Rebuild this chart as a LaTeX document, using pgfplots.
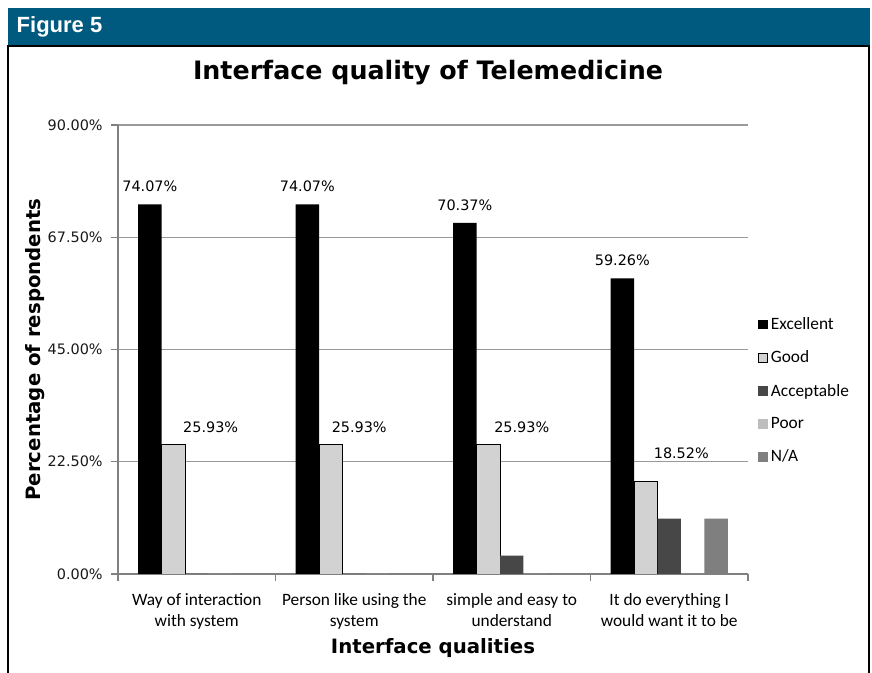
\documentclass[border=0pt]{standalone}
\usepackage{pgfplots}
\pgfplotsset{compat=1.18}
\usepackage{fontspec}
\setmainfont{DejaVu Sans}
\newfontfamily\carlito{Carlito}
\newfontfamily\libsans{Liberation Sans}
\definecolor{hdr}{HTML}{005A80}
\definecolor{goodc}{HTML}{D2D2D2}
\definecolor{accc}{HTML}{474747}
\definecolor{poorc}{HTML}{BDBDBD}
\definecolor{nac}{HTML}{7F7F7F}
\definecolor{gridc}{HTML}{999999}
\definecolor{axc}{HTML}{808080}
\begin{document}
\begin{tikzpicture}[x=0.75pt,y=0.75pt]
\path[use as bounding box, fill=white] (0,0) rectangle (872,673);
\fill[hdr] (8,627) rectangle (870,665);
\node[anchor=west, text=white, font=\libsans\bfseries\fontsize{16.5}{19}\selectfont] at (12,646) {Figure 5};
\draw[line width=1.1pt] (8,0) -- (8,627) -- (869,627) -- (869,0);
\node[font=\bfseries\fontsize{19}{22}\selectfont] at (428,600) {Interface quality of Telemedicine};
\begin{axis}[
  at={(88.5pt,74.25pt)}, anchor=south west,
  scale only axis, width=472.5pt, height=336.75pt,
  ybar=0pt, bar width=0.149,
  xmin=-0.5, xmax=3.5, ymin=0, ymax=90,
  axis x line*=bottom, axis y line*=left,
  axis line style={axc, line width=0.8pt},
  tick align=outside,
  major tick length=5pt,
  minor tick length=5pt,
  every tick/.style={axc, line width=0.8pt},
  ytick={0,22.5,45,67.5,90},
  yticklabels={0.00\%,22.50\%,45.00\%,67.50\%,90.00\%},
  yticklabel style={font=\fontsize{10.8}{12}\selectfont, text=black!90, xshift=-3pt},
  ymajorgrids, grid style={gridc, line width=0.8pt},
  xtick={0,1,2,3},
  xticklabels={{Way of interaction\\with system},{Person like using the\\system},{simple and easy to\\understand},{It do everything I\\would want it to be}},
  xticklabel style={font=\carlito\fontsize{13}{15.5}\selectfont, text=black, align=center, yshift=-6pt},
  major x tick style={draw=none},
  minor xtick={-0.5,0.5,1.5,2.5,3.5},
  xlabel={Interface qualities},
  xlabel style={font=\bfseries\fontsize{14.8}{17}\selectfont, at={(axis description cs:0.5,-0.165)}, anchor=center},
  ylabel={Percentage of respondents},
  ylabel style={font=\bfseries\fontsize{14.8}{17}\selectfont, at={(axis description cs:-0.132,0.5)}, anchor=center, rotate=0},
  legend style={at={(1.015,0.578)}, anchor=north west, draw=none, fill=none,
    font=\carlito\fontsize{13}{15.5}\selectfont, row sep=10.5pt, inner sep=0pt},
  legend cell align=left,
  legend image code/.code={\path[#1] (0pt,-3.6pt) rectangle (7.2pt,3.6pt);},
]
\addplot[fill=black, draw=none, nodes near coords, point meta=explicit symbolic,
  every node near coord/.append style={font=\fontsize{10.8}{12}\selectfont, text=black, anchor=center, yshift=13.5pt}]
  coordinates {(0,74.07) [74.07\%] (1,74.07) [74.07\%] (2,70.37) [70.37\%] (3,59.26) [59.26\%]};
\addlegendentry{Excellent}
\addplot[fill=goodc, draw=black, line width=0.7pt]
  coordinates {(0,25.93) (1,25.93) (2,25.93) (3,18.52)};
\addlegendentry{Good}
\addplot[fill=accc, draw=none]
  coordinates {(0,0) (1,0) (2,3.70) (3,11.11)};
\addlegendentry{Acceptable}
\addplot[fill=poorc, draw=none]
  coordinates {(0,0) (1,0) (2,0) (3,0)};
\addlegendentry{Poor}
\addplot[fill=nac, draw=none]
  coordinates {(0,0) (1,0) (2,0) (3,11.11)};
\addlegendentry{N/A}
\addplot[sharp plot, draw=none, forget plot, nodes near coords, point meta=explicit symbolic,
  every node near coord/.append style={font=\fontsize{10.8}{12}\selectfont, text=black, anchor=center}]
  coordinates {(0.014,29.46) [25.93\%] (0.957,29.46) [25.93\%] (1.989,29.46) [25.93\%] (3.002,24.25) [18.52\%]};
\end{axis}
\end{tikzpicture}
\end{document}
